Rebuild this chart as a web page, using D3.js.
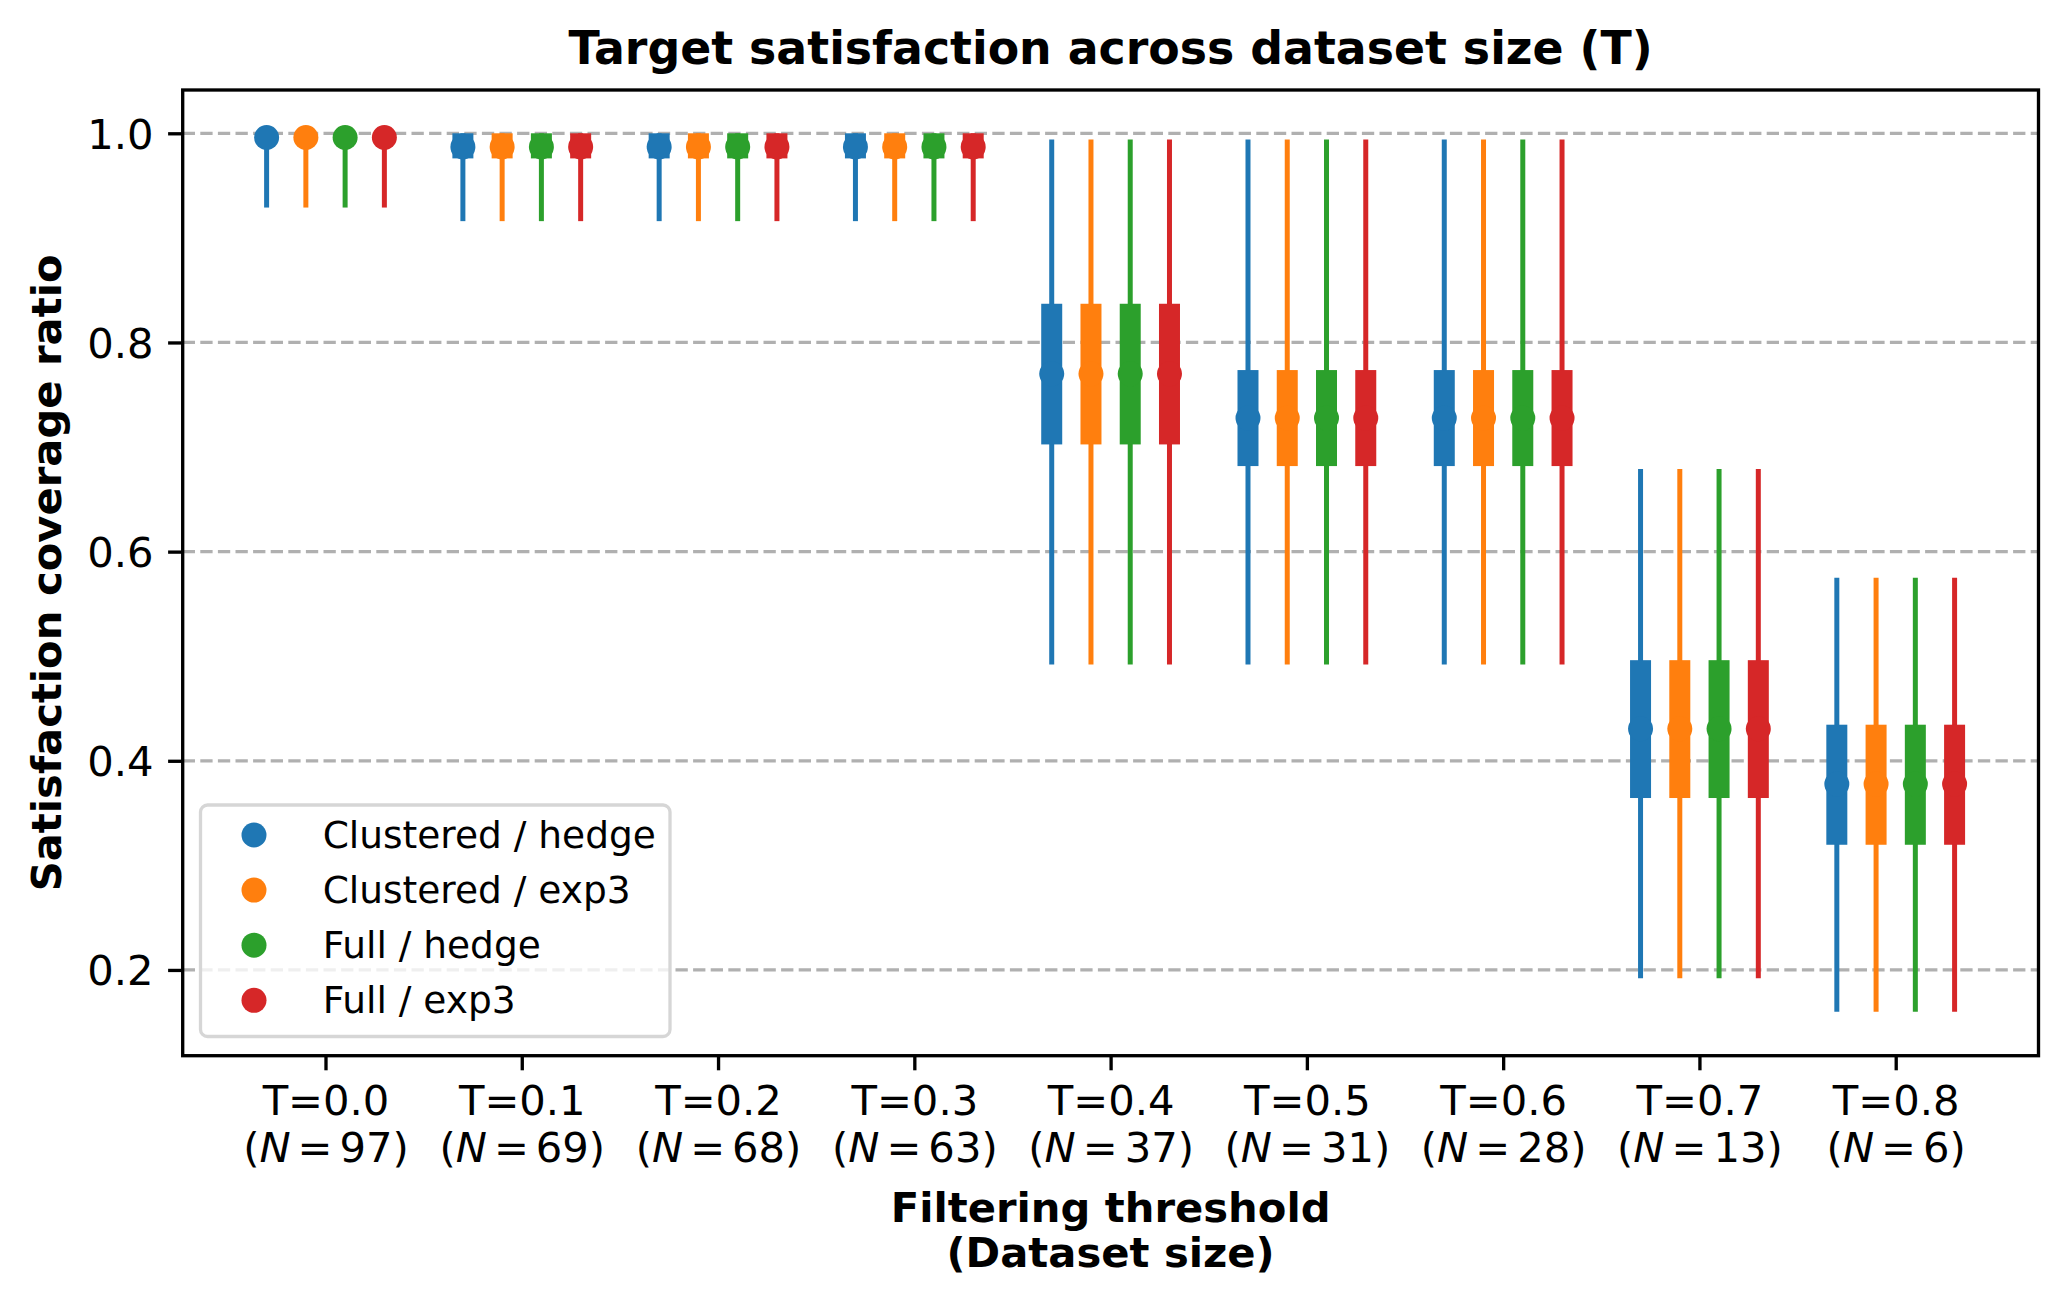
<!DOCTYPE html>
<html><head><meta charset="utf-8">
<script src="https://cdn.jsdelivr.net/npm/d3@7"></script>
<style>
body{margin:0;background:#fff;}
svg text{font-family:"DejaVu Sans";fill:#000;}
</style>
</head><body>
<svg id="chart" width="2069" height="1307"></svg>
<script>
// ---------- data ----------
const thresholds = ["0.0","0.1","0.2","0.3","0.4","0.5","0.6","0.7","0.8"];
const datasetSizes = [97, 69, 68, 63, 37, 31, 28, 13, 6];
const seriesNames = ["Clustered / hedge","Clustered / exp3","Full / hedge","Full / exp3"];
const seriesColors = ["#1f77b4","#ff7f0e","#2ca02c","#d62728"];
// per-threshold statistics (identical for all four series in the figure)
const whiskerLow  = [0.929, 0.916, 0.916, 0.916, 0.492, 0.492, 0.492, 0.192, 0.160];
const boxLow      = [0.992, 0.976, 0.976, 0.976, 0.7025, 0.6818, 0.6818, 0.3644, 0.3197];
const medians     = [0.996, 0.987, 0.987, 0.987, 0.770, 0.7277, 0.7277, 0.4306, 0.3777];
const boxHigh     = [1.0, 1.0, 1.0, 1.0, 0.837, 0.7736, 0.7736, 0.4962, 0.4345];
const whiskerHigh = [1.0, 1.0, 1.0, 1.0, 0.994, 0.994, 0.994, 0.679, 0.575];
const yTicks = [0.2, 0.4, 0.6, 0.8, 1.0];

// ---------- layout ----------
const svg = d3.select("#chart");
const L = 182.7, R = 2038.5, T = 90, B = 1055.7;
const FS = 41.7, LFS = 37.5, TFS = 45.8;
const x = d3.scaleLinear().domain([-0.7275, 8.7275]).range([L, R]);
const y = d3.scaleLinear().domain([0.118, 1.0414]).range([B, T]);
const dodge = d3.scalePoint().domain(seriesNames).range([-0.3, 0.3]);

const rows = [];
thresholds.forEach((t, i) => {
  seriesNames.forEach((s, j) => {
    rows.push({i, s, color: seriesColors[j], pos: i + dodge(s),
      wl: whiskerLow[i], q1: boxLow[i], med: medians[i], q3: boxHigh[i], wh: whiskerHigh[i]});
  });
});

// grid
svg.append("g").selectAll("line").data(yTicks).join("line")
  .attr("x1", L).attr("x2", R).attr("y1", d => y(d)).attr("y2", d => y(d))
  .attr("stroke", "#b0b0b0").attr("stroke-width", 3.3).attr("stroke-dasharray", "12.3,5.3");

// marks
const g = svg.append("g");
g.selectAll("line.wh").data(rows).join("line").attr("class","wh")
  .attr("x1", d => x(d.pos)).attr("x2", d => x(d.pos))
  .attr("y1", d => y(d.wl)).attr("y2", d => y(d.wh))
  .attr("stroke", d => d.color).attr("stroke-width", 5);
g.selectAll("rect.box").data(rows).join("rect").attr("class","box")
  .attr("x", d => x(d.pos) - 10.5).attr("width", 21)
  .attr("y", d => y(d.q3)).attr("height", d => y(d.q1) - y(d.q3))
  .attr("fill", d => d.color);
g.selectAll("circle.med").data(rows).join("circle").attr("class","med")
  .attr("cx", d => x(d.pos)).attr("cy", d => y(d.med)).attr("r", 12.5)
  .attr("fill", d => d.color);

// axes
const ya = svg.append("g").attr("transform", `translate(${L},0)`)
  .call(d3.axisLeft(y).tickValues(yTicks).tickFormat(d3.format(".1f")).tickSize(14.6).tickPadding(14.6));
ya.select(".domain").remove();
ya.selectAll(".tick line").attr("stroke", "#000").attr("stroke-width", 3.33);
ya.selectAll(".tick text").attr("font-size", FS).attr("font-family", "DejaVu Sans").attr("dy", "0.36em");

const xa = svg.append("g").attr("transform", `translate(0,${B})`)
  .call(d3.axisBottom(x).tickValues(d3.range(thresholds.length)).tickFormat("").tickSize(14.6));
xa.select(".domain").remove();
xa.selectAll(".tick line").attr("stroke", "#000").attr("stroke-width", 3.33);
xa.selectAll(".tick").each(function(d, i) {
  const tg = d3.select(this);
  tg.selectAll("text").remove();
  tg.append("text").attr("y", 1115 - B).attr("text-anchor", "middle")
    .attr("font-size", FS).text("T=" + thresholds[i]);
  const t2 = tg.append("text").attr("y", 1161.7 - B).attr("text-anchor", "middle").attr("font-size", FS);
  t2.append("tspan").text("(");
  t2.append("tspan").attr("font-style", "italic").text("N");
  t2.append("tspan").attr("dx", 7).text("=");
  t2.append("tspan").attr("dx", 7).text(datasetSizes[i] + ")");
});

// spines
svg.append("rect").attr("x", L).attr("y", T).attr("width", R - L).attr("height", B - T)
  .attr("fill", "none").attr("stroke", "#000").attr("stroke-width", 3.33);

// title and labels
const cx = (L + R) / 2;
svg.append("text").attr("x", cx).attr("y", 64).attr("text-anchor", "middle")
  .attr("font-size", TFS).attr("font-weight", "bold").text("Target satisfaction across dataset size (T)");
svg.append("text").attr("x", cx).attr("y", 1222).attr("text-anchor", "middle")
  .attr("font-size", FS).attr("font-weight", "bold").text("Filtering threshold");
svg.append("text").attr("x", cx).attr("y", 1267).attr("text-anchor", "middle")
  .attr("font-size", FS).attr("font-weight", "bold").text("(Dataset size)");
svg.append("text").attr("transform", `translate(61,${(T + B) / 2}) rotate(-90)`).attr("text-anchor", "middle")
  .attr("font-size", FS).attr("font-weight", "bold").text("Satisfaction coverage ratio");

// legend
const lg = svg.append("g");
lg.append("rect").attr("x", 200.5).attr("y", 805).attr("width", 469.5).attr("height", 231.5)
  .attr("rx", 7).attr("ry", 7).attr("fill", "#fff").attr("fill-opacity", 0.8)
  .attr("stroke", "#d6d6d6").attr("stroke-width", 3.3);
const ly = d3.scalePoint().domain(seriesNames).range([835, 1000.3]);
lg.selectAll("circle").data(seriesNames).join("circle")
  .attr("cx", 254).attr("cy", d => ly(d)).attr("r", 12.5)
  .attr("fill", (d, j) => seriesColors[j]);
lg.selectAll("text").data(seriesNames).join("text")
  .attr("x", 322.7).attr("y", d => ly(d) + 13).attr("font-size", LFS).text(d => d);
</script>
</body></html>
